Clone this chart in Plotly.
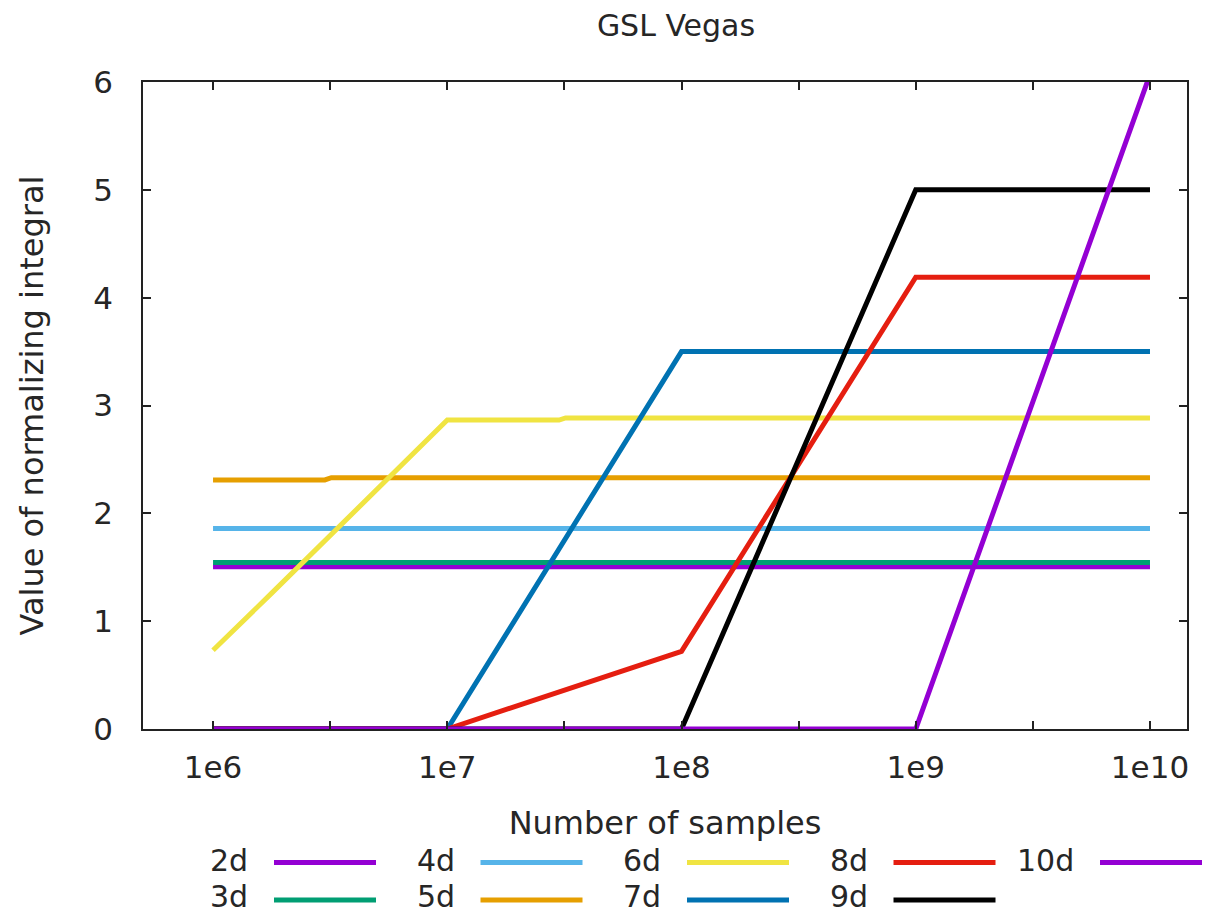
import plotly.graph_objects as go

# ---- data ----
names = ["2d", "3d", "4d", "5d", "6d", "7d", "8d", "9d", "10d"]
colors = ["#9400d3", "#009e73", "#56b4e9", "#e69f00", "#f0e442",
          "#0072b2", "#e51e10", "#000000", "#9400d3"]

x_2d = [1e6, 1e10]
y_2d = [1.505, 1.505]
x_3d = [1e6, 1e10]
y_3d = [1.545, 1.545]
x_4d = [1e6, 1e10]
y_4d = [1.86, 1.86]
x_5d = [1e6, 3.0e6, 3.2e6, 1e10]
y_5d = [2.31, 2.31, 2.33, 2.33]
x_6d = [1e6, 1.78e6, 1e7, 3.0e7, 3.2e7, 1e10]
y_6d = [0.73, 1.26, 2.865, 2.865, 2.885, 2.885]
x_7d = [1e6, 1e7, 1e8, 1e10]
y_7d = [0.0, 0.0, 3.50, 3.50]
x_8d = [1e6, 1e7, 1e8, 1e9, 1e10]
y_8d = [0.0, 0.0, 0.72, 4.19, 4.19]
x_9d = [1e6, 1e8, 1e9, 1e10]
y_9d = [0.0, 0.0, 5.0, 5.0]
x_10d = [1e6, 1e9, 1e10]
y_10d = [0.0, 0.0, 6.07]

xs = [x_2d, x_3d, x_4d, x_5d, x_6d, x_7d, x_8d, x_9d, x_10d]
ys = [y_2d, y_3d, y_4d, y_5d, y_6d, y_7d, y_8d, y_9d, y_10d]

x_tickvals = [1e6, 10**6.5, 1e7, 10**7.5, 1e8, 10**8.5, 1e9, 10**9.5, 1e10]
x_ticktext = ["1e6", "", "1e7", "", "1e8", "", "1e9", "", "1e10"]
y_tickvals = [0, 1, 2, 3, 4, 5, 6]

FONT = "DejaVu Sans"
TXT = "#262626"
FS = 32
FS_TICK = 31
FS_TITLE = 30
FS_LEG = 30
LW = 5

# page body has an 8px margin: size the figure so it fills the rest of the window
OFF = 8
W, H = 1223 - OFF, 914 - OFF
# plot area in reference-window pixels: x 143..1187, y 82..729
L = 143 - OFF
R = W - (1187 - OFF)
T = 82 - OFF
B = H - (729 - OFF)
pw, ph = W - L - R, H - T - B

fig = go.Figure()
for n, c, x, y in zip(names, colors, xs, ys):
    fig.add_trace(go.Scatter(x=x, y=y, mode="lines", name=n,
                             line=dict(color=c, width=LW),
                             showlegend=False))

# ---- gnuplot-style legend: label on the left, line sample on the right ----
def px2paper_x(px):
    return (px - OFF - L) / pw

def px2paper_y(py):
    return (H - B - (py - OFF)) / ph

shapes = []
annotations = []
for i, (n, c) in enumerate(zip(names, colors)):
    col, row = divmod(i, 2)
    text_right = 250 + 206.5 * col
    py = 860 + 36 * row
    annotations.append(dict(text=n, x=px2paper_x(text_right), y=px2paper_y(py),
                            xref="paper", yref="paper", xanchor="right",
                            yanchor="middle", showarrow=False,
                            font=dict(family=FONT, size=FS_LEG, color=TXT)))
    shapes.append(dict(type="line", xref="paper", yref="paper",
                       x0=px2paper_x(text_right + 24), x1=px2paper_x(text_right + 126),
                       y0=px2paper_y(py + 2.5 + 1.5 * row), y1=px2paper_y(py + 2.5 + 1.5 * row),
                       line=dict(color=c, width=LW)))

fig.update_layout(
    width=W, height=H,
    margin=dict(l=L, r=R, t=T, b=B),
    paper_bgcolor="white", plot_bgcolor="white",
    font=dict(family=FONT, size=FS, color=TXT),
    title=dict(text="GSL Vegas", x=(676 - OFF) / W, xanchor="center",
               y=1 - (25.5 - OFF) / H, yanchor="middle", yref="container",
               font=dict(family=FONT, size=FS_TITLE, color=TXT)),
    shapes=shapes, annotations=annotations,
    showlegend=False,
)
fig.update_xaxes(
    type="log", range=[5.701, 10.158],
    tickvals=x_tickvals, ticktext=x_ticktext,
    ticks="inside", ticklen=8, tickwidth=1.5, tickcolor="#222",
    showline=True, linecolor="#222", linewidth=1.5, mirror="ticks",
    showgrid=False, zeroline=False,
    ticklabelstandoff=10,
    tickfont=dict(family=FONT, size=FS_TICK, color=TXT),
    title=dict(text="Number of samples", standoff=28,
               font=dict(family=FONT, size=FS, color=TXT)),
)
fig.update_yaxes(
    range=[0, 6], tickvals=y_tickvals,
    ticks="inside", ticklen=8, tickwidth=1.5, tickcolor="#222",
    showline=True, linecolor="#222", linewidth=1.5, mirror="ticks",
    showgrid=False, zeroline=False,
    ticklabelstandoff=22,
    tickfont=dict(family=FONT, size=FS_TICK, color=TXT),
    title=dict(text="Value of normalizing integral", standoff=40,
               font=dict(family=FONT, size=FS, color=TXT)),
)

fig.write_html("out.html")
